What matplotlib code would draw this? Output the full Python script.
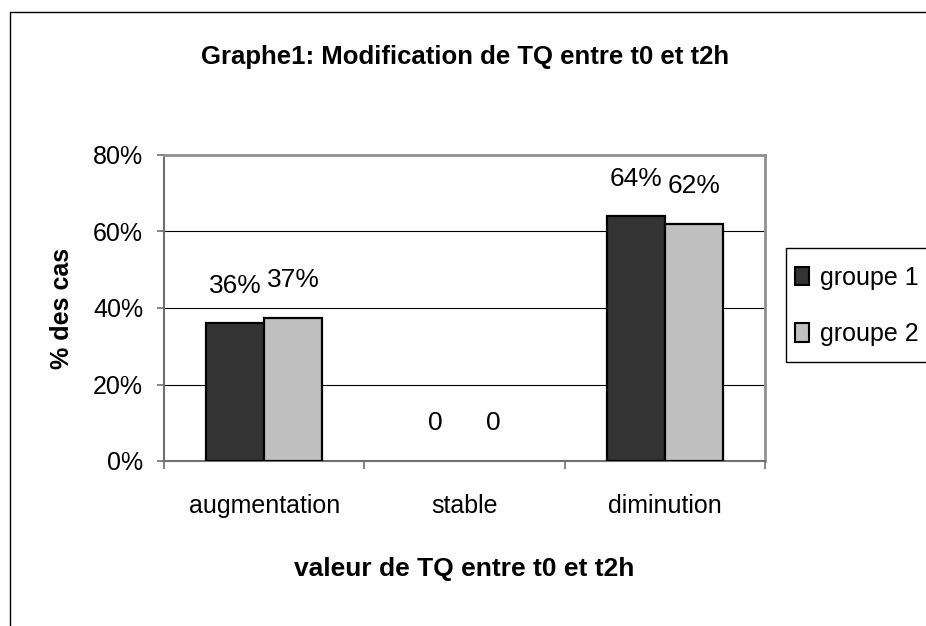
import matplotlib
matplotlib.use("Agg")
import matplotlib.pyplot as plt
from matplotlib.patches import Rectangle, Patch
import numpy as np

categories = ["augmentation", "stable", "diminution"]
groupe1 = [36, 0, 64]
groupe2 = [37.5, 0, 62]
labels1 = ["36%", "0", "64%"]
labels2 = ["37%", "0", "62%"]
series_names = ["groupe 1", "groupe 2"]
yticks = [0, 20, 40, 60, 80]
ytick_labels = ["0%", "20%", "40%", "60%", "80%"]

plt.rcParams['font.family'] = ['Liberation Sans', 'DejaVu Sans']

W, H = 926, 626
fig = plt.figure(figsize=(W / 100, H / 100), dpi=100)
fig.patch.set_facecolor("white")

# outer chart border (extends beyond image on right/bottom)
fig.patches.append(Rectangle((10 / W, -0.1), 1.2, 1 - 12 / H + 0.1, transform=fig.transFigure,
                             fill=False, edgecolor="black", linewidth=1.0))

ax = fig.add_axes([164 / W, (H - 461) / H, (765 - 164) / W, (461 - 155) / H])
x = np.arange(len(categories))
bw = 0.29
c1, c2 = "#333333", "#C0C0C0"
b1 = ax.bar(x - bw / 2, groupe1, bw, color=c1, edgecolor="black", linewidth=1.6, zorder=3)
b2 = ax.bar(x + bw / 2, groupe2, bw, color=c2, edgecolor="black", linewidth=1.6, zorder=3)
for p in list(b1) + list(b2):
    if p.get_height() == 0:
        p.set_linewidth(0)

for xi, v, lab in zip(x - bw / 2, groupe1, labels1):
    ax.annotate(lab, (xi, v), xytext=(0, 22), textcoords="offset points", ha="center", va="baseline", fontsize=19)
for xi, v, lab in zip(x + bw / 2, groupe2, labels2):
    ax.annotate(lab, (xi, v), xytext=(0, 22), textcoords="offset points", ha="center", va="baseline", fontsize=19)

ax.set_xlim(-0.5, 2.5)
ax.set_ylim(0, 80)
ax.set_yticks(yticks)
ax.set_yticklabels(ytick_labels, fontsize=18)
ax.yaxis.grid(True, color="black", linewidth=0.8, zorder=0)
ax.set_axisbelow(True)

ax.set_xticks(x)
ax.set_xticklabels(categories, fontsize=18)
ax.tick_params(axis="x", length=0, pad=24)
ax.set_xticks([-0.5, 0.5, 1.5, 2.5], minor=True)
ax.tick_params(axis="x", which="minor", length=6, width=1.2, color="#707070")
ax.tick_params(axis="y", length=5, width=1.2, color="#707070", pad=10)

for side in ["top", "right"]:
    ax.spines[side].set_color("#909090")
    ax.spines[side].set_linewidth(2.0)
for side in ["left", "bottom"]:
    ax.spines[side].set_color("#707070")
    ax.spines[side].set_linewidth(1.5)

ax.set_xlabel("valeur de TQ entre t0 et t2h", fontsize=19, fontweight="bold", labelpad=28)
ax.set_ylabel("% des cas", fontsize=18, fontweight="bold", labelpad=14)

fig.text(465 / W, 1 - 57 / H, "Graphe1: Modification de TQ entre t0 et t2h", ha="center", va="center",
         fontsize=18.5, fontweight="bold")

# legend box (extends past the right edge of the image)
fig.patches.append(Rectangle((786 / W, 1 - 362 / H), 0.5, (362 - 248) / H, transform=fig.transFigure,
                             fill=True, facecolor="white", edgecolor="black", linewidth=1.0, zorder=5))
handles = [Patch(facecolor=c1, edgecolor="black", linewidth=1.5),
           Patch(facecolor=c2, edgecolor="black", linewidth=1.5)]
leg = fig.legend(handles, series_names, loc="center left", bbox_to_anchor=(795 / W, 1 - 306 / H),
                 fontsize=18, frameon=False, borderpad=0,
                 handlelength=0.55, handleheight=0.75, handletextpad=0.45, labelspacing=1.3,
                 borderaxespad=0)
leg.set_zorder(6)

fig.savefig("out.png", dpi=100)
